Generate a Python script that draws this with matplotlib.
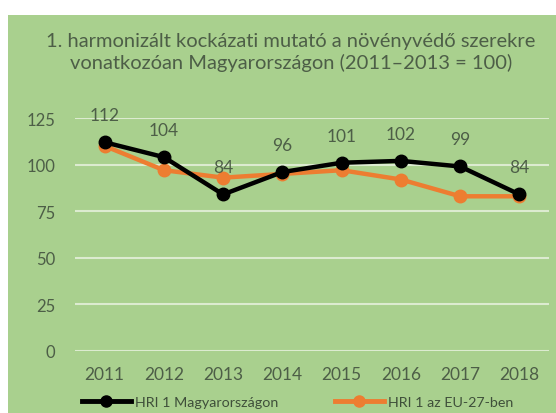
import matplotlib
matplotlib.use("Agg")
import matplotlib.pyplot as plt
from matplotlib.patches import Rectangle
from matplotlib.lines import Line2D

years = ["2011", "2012", "2013", "2014", "2015", "2016", "2017", "2018"]
hu_values = [112, 104, 84, 96, 101, 102, 99, 84]
eu_values = [110, 97, 93, 95, 97, 92, 83, 83]
y_ticks = [0, 25, 50, 75, 100, 125]
title = "1. harmonizált kockázati mutató a növényvédő szerekre\nvonatkozóan Magyarországon (2011–2013 = 100)"
series_names = ["HRI 1 Magyarországon", "HRI 1 az EU-27-ben"]

plt.rcParams['font.family'] = ['Lato', 'DejaVu Sans']
W, H = 556, 414
fig = plt.figure(figsize=(W/100, H/100), dpi=100)
fig.patch.set_facecolor("white")
green = "#a9d08e"
fig.patches.append(Rectangle((8/W, 0), 1 - 8/W, 1 - 16/H, transform=fig.transFigure,
                             facecolor=green, edgecolor="none", zorder=-10))
txt = "#4d5e47"

ax = fig.add_axes([75/W, 1 - 352/H, (549-75)/W, (352-119)/H])
ax.set_facecolor("none")
x = list(range(len(years)))
ax.plot(x, eu_values, color="#ed7d31", lw=3.2, marker="o", ms=9, zorder=3)
ax.plot(x, hu_values, color="black", lw=3.2, marker="o", ms=9, zorder=4)
for xi, v in zip(x, hu_values):
    ax.annotate(str(v), (xi, v), xytext=(0, 19.5), textcoords="offset points",
                ha="center", va="center", fontsize=12.5, color=txt)
ax.set_xlim(-0.5, len(years) - 0.5)
ax.set_ylim(0, 125)
ax.set_yticks(y_ticks)
ax.set_xticks(x)
ax.set_xticklabels(years, fontsize=12.5, color=txt)
ax.set_yticklabels([str(t) for t in y_ticks], fontsize=12, color=txt)
ax.tick_params(length=0)
ax.tick_params(axis="y", pad=14)
ax.tick_params(axis="x", pad=11)
ax.grid(axis="y", color="#dcebd0", lw=1.5)
ax.set_axisbelow(True)
for s in ax.spines.values():
    s.set_visible(False)

fig.text(291/W, 1 - 52.5/H, title, ha="center", va="center", fontsize=14.5, color=txt, linespacing=1.22)

colors = ["black", "#ed7d31"]
anchors = [82, 335]
for name, c, a in zip(series_names, colors, anchors):
    h = Line2D([], [], color=c, lw=3.5, marker="o", ms=8)
    leg = fig.legend([h], [name], loc="center left", bbox_to_anchor=(a/W, 1 - 403/H),
                     frameon=False, fontsize=10.3, handlelength=3.4, handletextpad=0.3,
                     borderpad=0, borderaxespad=0, labelcolor="#3f4f3a")

fig.savefig("out.png", dpi=100)
